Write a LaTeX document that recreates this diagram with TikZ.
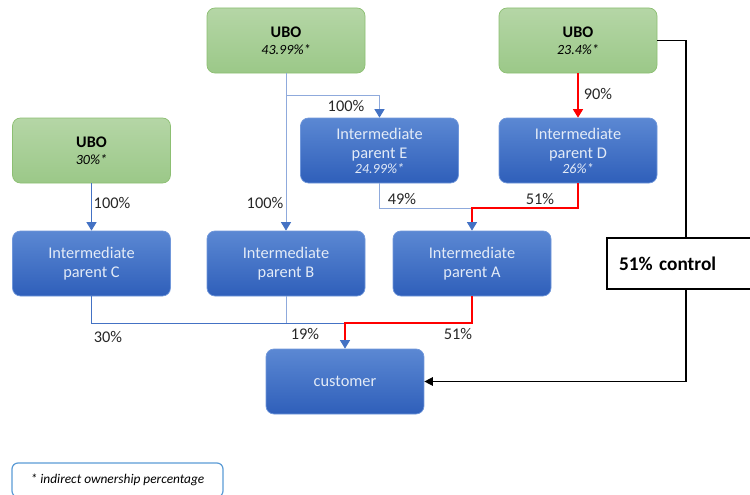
\documentclass[tikz,border=0pt]{standalone}
\usepackage{fontspec}
\setmainfont{Carlito}
\usepackage{xcolor}
\usepackage{tikz}
\usetikzlibrary{arrows.meta, positioning}

\definecolor{ubotop}{HTML}{B5D6A6}
\definecolor{ubobot}{HTML}{9BC888}
\definecolor{uboline}{HTML}{8CBF72}
\definecolor{partop}{HTML}{5B88D3}
\definecolor{parbot}{HTML}{2F5FBA}
\definecolor{parline}{HTML}{7097DA}
\definecolor{partext}{HTML}{E3EBF7}
\definecolor{lightline}{HTML}{8FAADC}
\definecolor{darkline}{HTML}{4472C4}
\definecolor{noteline}{HTML}{5B9BD5}
\newcommand{\indp}{\fontsize{8}{9}\selectfont\itshape}

\begin{document}
\begin{tikzpicture}[
    ubo/.style={rectangle, rounded corners=0.16cm, draw=uboline, top color=ubotop, bottom color=ubobot, minimum width=3.16cm, minimum height=1.3cm, align=center, text=black, font=\fontsize{9.2}{10.4}\selectfont},
    parent/.style={rectangle, rounded corners=0.16cm, draw=parline, top color=partop, bottom color=parbot, minimum width=3.16cm, minimum height=1.3cm, align=center, text=partext, font=\fontsize{9.3}{11.2}\selectfont},
    pct/.style={inner sep=1pt, text=black!85, font=\fontsize{9.3}{10}\selectfont},
    own/.style={draw=lightline, line width=0.55pt},
    owndark/.style={draw=darkline, line width=0.55pt},
    arrow/.style={-{Triangle[width=0.2cm,length=0.17cm,color=darkline]}},
    redarrow/.style={-{Triangle[width=0.2cm,length=0.17cm,color=red]}},
    ctl/.style={draw=red, line width=0.85pt},
    ctlarrow/.style={draw=black, line width=0.8pt, -{Triangle[width=0.17cm,length=0.17cm]}}
]
\useasboundingbox (0,0) rectangle (15,-9.9);

% Owners
\node[ubo] (ubo1) at (5.72,-0.81) {\textbf{UBO}\\[-1pt]{\indp 43.99\%*}};
\node[ubo] (ubo2) at (11.56,-0.81) {\textbf{UBO}\\[-1pt]{\indp 23.4\%*}};
\node[ubo] (ubo3) at (1.83,-3.01) {\textbf{UBO}\\[-1pt]{\indp 30\%*}};

% Intermediate parents
\node[parent] (ipE) at (7.59,-3.01) {Intermediate\\parent E\\[-3pt]{\indp 24.99\%*}};
\node[parent] (ipD) at (11.56,-3.01) {Intermediate\\parent D\\[-3pt]{\indp 26\%*}};
\node[parent] (ipC) at (1.83,-5.27) {Intermediate\\parent C};
\node[parent] (ipB) at (5.72,-5.27) {Intermediate\\parent B};
\node[parent] (ipA) at (9.44,-5.27) {Intermediate\\parent A};
\node[parent] (cust) at (6.9,-7.63) {customer};

% Control and note
\node[draw, fill=white, line width=0.8pt, minimum height=1.02cm, text width=2.68cm, inner xsep=0.24cm, align=left, font=\fontsize{11}{13}\selectfont\bfseries] (ctrl) at (13.72,-5.27) {51\% control};
\node[draw=noteline, rounded corners=0.12cm, line width=0.7pt, minimum width=4.22cm, minimum height=0.68cm, font=\fontsize{7.6}{9}\selectfont\itshape] (note) at (2.35,-9.6) {* indirect ownership percentage};

% Junctions
\coordinate (jE) at (5.72,-1.9);
\coordinate (jA) at (9.44,-4.16);
\coordinate (jC) at (6.9,-6.46);

% Ownership lines
\draw[own, arrow] (ubo1.south) -- (ipB.north);
\draw[own, arrow] (jE) -| (ipE.north);
\draw[owndark, arrow] (ubo3.south) -- (ipC.north);
\draw[ctl, redarrow] (ubo2.south) -- (ipD.north);
\draw[own, arrow] (ipE.south) |- (jA) -- (ipA.north);
\draw[ctl, shorten >=0.17cm] (ipD.south) |- (jA) -- (ipA.north);
\draw[owndark] (ipC.south) |- (jC);
\draw[own] (ipB.south) -- (ipB.south |- jC);
\draw[owndark, arrow] (jC) -- (cust.north);
\draw[ctl, shorten >=0.17cm] (ipA.south) |- (jC) -- (cust.north);
\draw[ctlarrow, -] (ubo2.east) -| (ctrl.north);
\draw[ctlarrow] (ctrl.south) |- (cust.east);

% Percentages
\node[pct] (p1) at (6.92,-2.12) {100\%};
\node[pct] (p2) at (5.3,-4.06) {100\%};
\node[pct] (p3) at (2.24,-4.06) {100\%};
\node[pct] (p4) at (11.96,-1.88) {90\%};
\node[pct] (p5) at (8.04,-3.98) {49\%};
\node[pct] (p6) at (10.8,-3.98) {51\%};
\node[pct] (p7) at (2.16,-6.74) {30\%};
\node[pct] (p8) at (6.1,-6.68) {19\%};
\node[pct] (p9) at (9.16,-6.68) {51\%};

\end{tikzpicture}
\end{document}
